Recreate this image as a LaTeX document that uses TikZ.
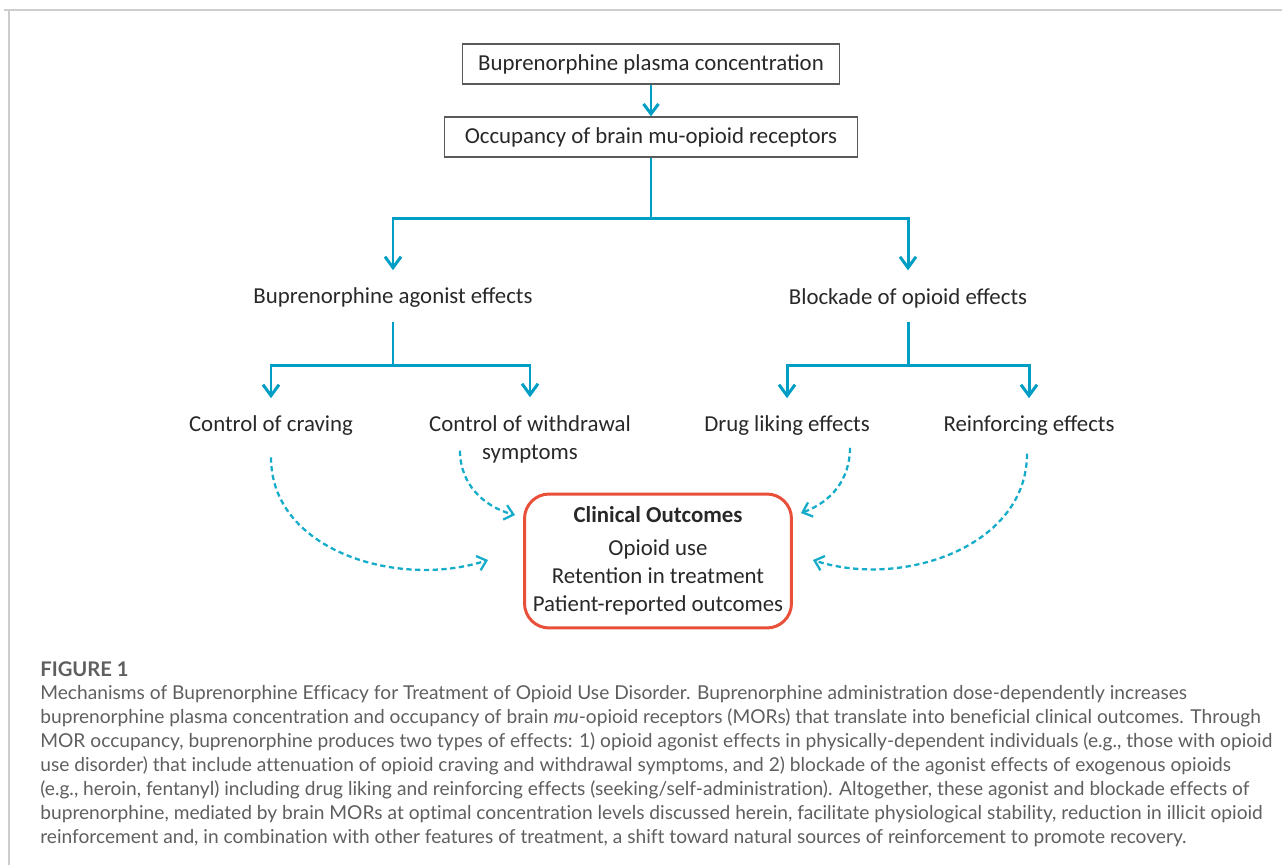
\documentclass[tikz,border=0pt]{standalone}
\usepackage{fontspec}
\setmainfont{Carlito}
\newfontfamily\capfont[Ligatures=NoCommon]{Lato}
\usetikzlibrary{arrows.meta,positioning}

\definecolor{flowblue}{RGB}{0,158,196}
\definecolor{dashblue}{RGB}{20,172,200}
\definecolor{outred}{RGB}{232,80,58}
\definecolor{boxgray}{RGB}{90,90,90}
\definecolor{txtgray}{RGB}{40,40,40}
\definecolor{capgray}{RGB}{95,95,95}
\definecolor{framegray}{RGB}{205,205,205}

\tikzset{
  lbl/.style={text=txtgray, font=\fontsize{13}{16}\selectfont, inner sep=2pt},
  stepbox/.style={lbl, draw=boxgray, line width=0.7pt, minimum height=0.8cm},
  tree/.style={draw=flowblue, line width=1.7pt},
  treearr/.style={tree, -{Straight Barb[length=2.2mm,width=3.2mm]}, shorten >=8pt},
  dasharr/.style={draw=dashblue, line width=1.3pt, dash pattern=on 3pt off 2pt,
    -{Straight Barb[length=1.7mm,width=3mm]}}
}

\begin{document}
\begin{tikzpicture}[x=0.02cm, y=-0.02cm]
  \useasboundingbox (0,0) rectangle (1282,865);
  \draw[framegray, line width=0.8pt] (4,10) -- (1282,10);
  \draw[framegray, line width=0.8pt] (9,10) -- (9,865);

  % top chain
  \node[stepbox, minimum width=7.54cm] (conc) at (651,64) {Buprenorphine plasma concentration};
  \node[stepbox, minimum width=8.26cm] (occ) at (651,137) {Occupancy of brain mu-opioid receptors};
  \draw[tree, -{Straight Barb[length=2mm,width=3mm]}] (conc) -- (occ);

  % two kinds of effects
  \node[lbl] (agon) at (393,298) {Buprenorphine agonist effects};
  \node[lbl] (block) at (908,298) {Blockade of opioid effects};
  \draw[tree] (occ.south) -- ++(0,61) coordinate (split);
  \draw[treearr] (split) -| (agon.north);
  \draw[treearr] (split) -| (block.north);

  % single effects
  \node[lbl] (crav) at (271,426) {Control of craving};
  \node[lbl, align=center] (withd) at (530,439) {Control of withdrawal\\symptoms};
  \node[lbl] (liking) at (787,426) {Drug liking effects};
  \node[lbl] (reinf) at (1029,426) {Reinforcing effects};
  \draw[tree] ([yshift=-6pt]agon.south) -- ++(0,43) coordinate (splitA);
  \draw[treearr] (splitA) -| (crav.north);
  \draw[treearr] (splitA) -| (withd.north);
  \draw[tree] ([yshift=-6pt]block.south) -- ++(0,43) coordinate (splitB);
  \draw[treearr] (splitB) -| (liking.north);
  \draw[treearr] (splitB) -| (reinf.north);

  % outcomes
  \node[lbl, draw=outred, line width=1.7pt, rounded corners=14pt, align=center,
        minimum width=5.34cm, minimum height=2.68cm] (clin) at (658,561)
    {\textbf{Clinical Outcomes}\\[3pt]Opioid use\\Retention in treatment\\Patient-reported outcomes};

  \draw[dasharr] ([yshift=-10pt]crav.south) to[out=-90, in=198]
    ([shift={(-35,-1)}]clin.west);
  \draw[dasharr] ([shift={(-70,-16)}]withd.south) to[out=-90, in=165]
    ([shift={(-8,-46)}]clin.west);
  \draw[dasharr] ([shift={(63,8)}]liking.south) to[out=-90, in=20]
    ([shift={(8,-48)}]clin.east);
  \draw[dasharr] ([shift={(-2,14)}]reinf.south) to[out=-90, in=-18]
    ([shift={(20,-1)}]clin.east);

  % caption
  \node[anchor=west, text=capgray, inner sep=0pt, font=\capfont\bfseries\fontsize{11.5}{13}\selectfont]
    (fig) at (40,669) {FIGURE 1};
  \node[anchor=north west, text=capgray, inner sep=0pt, align=left,
        font=\capfont\fontsize{10.9}{13.66}\selectfont] (capt) at (40,685)
    {Mechanisms of Buprenorphine Efficacy for Treatment of Opioid Use Disorder. Buprenorphine administration dose-dependently increases\\
     buprenorphine plasma concentration and occupancy of brain \textit{mu}-opioid receptors (MORs) that translate into beneficial clinical outcomes. Through\\
     MOR occupancy, buprenorphine produces two types of effects: 1) opioid agonist effects in physically-dependent individuals (e.g., those with opioid\\
     use disorder) that include attenuation of opioid craving and withdrawal symptoms, and 2) blockade of the agonist effects of exogenous opioids\\
     (e.g., heroin, fentanyl) including drug liking and reinforcing effects (seeking/self-administration). Altogether, these agonist and blockade effects of\\
     buprenorphine, mediated by brain MORs at optimal concentration levels discussed herein, facilitate physiological stability, reduction in illicit opioid\\
     reinforcement and, in combination with other features of treatment, a shift toward natural sources of reinforcement to promote recovery.};
\end{tikzpicture}
\end{document}
